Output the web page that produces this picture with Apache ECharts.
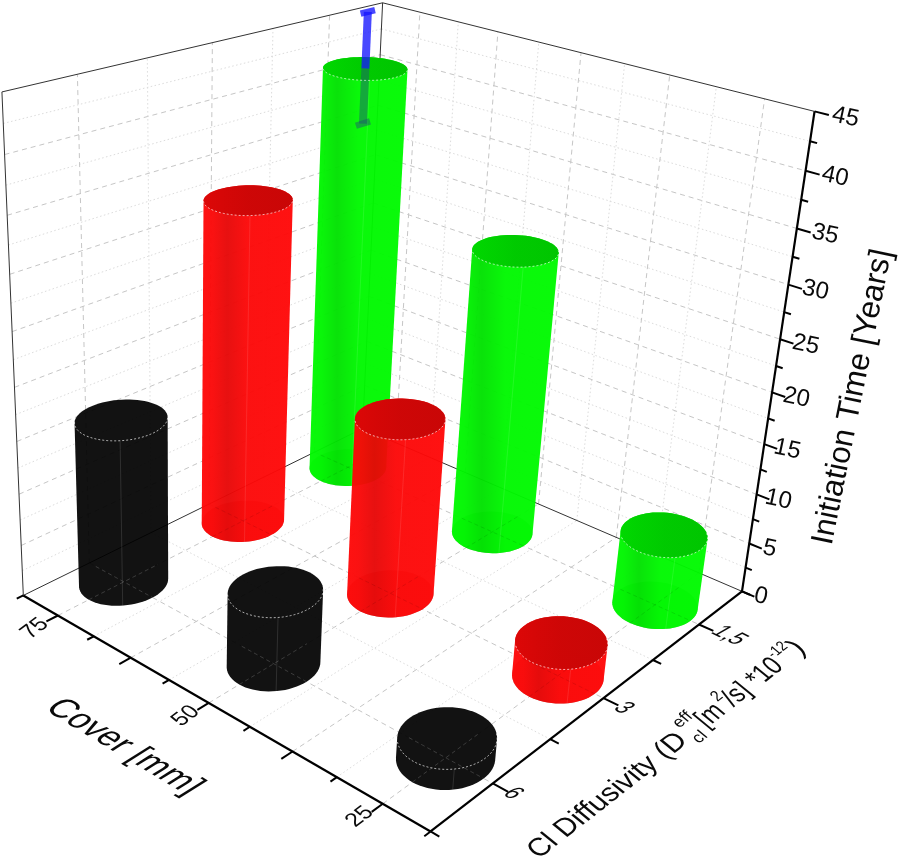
<!DOCTYPE html>
<html><head><meta charset="utf-8">
<style>html,body{margin:0;padding:0;background:#fff}#c{width:898px;height:859px}</style>
<script src="https://cdn.jsdelivr.net/npm/echarts@6/dist/echarts.min.js"></script>
</head><body><div id="c"></div>
<script>
// ---- data ----
const coverLabels = ['75','50','25'];
const diffusivityLabels = ['6','3','1,5'];
const timeTicks = [0,5,10,15,20,25,30,35,40,45];
const timeDiff6  = [16, 7, 1.9];
const timeDiff3  = [32, 17.3, 3.3];
const timeDiff15 = [41, 28.5, 7.2];
const errorCover75Diff15 = 5.2;
const barColours = [[0,0,0],[255,8,8],[0,250,0]];

// ---- camera calibration: [x,y,z] in unit box -> pixel ----
const calib = [
 [0,0,0,24,593],[1,0,0,430,831],[1,1,0,743,590],[0,1,0,362,430],
 [0,0,1,2,92],[0,1,1,383,2],[1,1,1,814,111],
 [.1,0,0,58,617],[.5,0,0,208,703],[.9,0,0,382,805],
 [1,1/6,0,495,784],[1,.5,0,603,698],[1,5/6,0,697,624],
 [1,1,1/3,767,443],[1,1,2/3,787,287]
];
function solveCamera(pts){
  const n=11,A=[],b=[];
  for(let i=0;i<n;i++){A.push(new Array(n).fill(0));b.push(0);}
  const add=(r,t)=>{for(let i=0;i<n;i++){b[i]+=r[i]*t;for(let j=0;j<n;j++)A[i][j]+=r[i]*r[j];}};
  pts.forEach(([X,Y,Z,u,v])=>{
    add([X,Y,Z,1,0,0,0,0,-u*X,-u*Y,-u*Z],u);
    add([0,0,0,0,X,Y,Z,1,-v*X,-v*Y,-v*Z],v);
  });
  for(let c=0;c<n;c++){
    let p=c;for(let r=c+1;r<n;r++)if(Math.abs(A[r][c])>Math.abs(A[p][c]))p=r;
    [A[c],A[p]]=[A[p],A[c]];[b[c],b[p]]=[b[p],b[c]];
    for(let r=0;r<n;r++){if(r===c)continue;const f=A[r][c]/A[c][c];
      if(f){for(let k=c;k<n;k++)A[r][k]-=f*A[c][k];b[r]-=f*b[c];}}
  }
  return b.map((v,i)=>v/A[i][i]);
}
const M=solveCamera(calib);
function P(x,y,z){
  const w=M[8]*x+M[9]*y+M[10]*z+1;
  return [(M[0]*x+M[1]*y+M[2]*z+M[3])/w,(M[4]*x+M[5]*y+M[6]*z+M[7])/w];
}
const zOf=v=>echarts.number.linearMap(v,[0,45],[0,1]);
const coverPos=i=>0.1+0.4*i;        // 75,50,25 on 10 tick intervals
const diffPos=i=>1/6+i/3;           // 6,3,1.5 on 6 tick intervals
const RX=0.081,RY=0.09;

// ---- helpers ----
const GRID='#c6c6c6';
function line(a,b,stroke,w,dash){return {type:'polyline',shape:{points:[a,b]},style:{fill:null,stroke,lineWidth:w,lineDash:dash||null},silent:true};}
function text(t,x,y,deg,size,skew){return {type:'text',x,y,rotation:deg*Math.PI/180,skewX:skew||0,silent:true,
  style:{text:t,fill:'#0a0a0a',font:size+'px "Liberation Sans"',align:'center',verticalAlign:'middle'}};}
function hull(pts){
  const s=pts.slice().sort((a,b)=>a[0]-b[0]||a[1]-b[1]);
  const cr=(o,a,b)=>(a[0]-o[0])*(b[1]-o[1])-(a[1]-o[1])*(b[0]-o[0]);
  const lo=[],up=[];
  for(const p of s){while(lo.length>1&&cr(lo[lo.length-2],lo[lo.length-1],p)<=0)lo.pop();lo.push(p);}
  for(const p of s.slice().reverse()){while(up.length>1&&cr(up[up.length-2],up[up.length-1],p)<=0)up.pop();up.push(p);}
  return lo.slice(0,-1).concat(up.slice(0,-1));
}
const rgba=(c,a,k)=>`rgba(${Math.round(c[0]*(k||1))},${Math.round(c[1]*(k||1))},${Math.round(c[2]*(k||1))},${a})`;
function circle(x,y,z){const o=[];for(let i=0;i<72;i++){const t=i/72*2*Math.PI;o.push(P(x+RX*Math.cos(t),y+RY*Math.sin(t),z));}return o;}

const BLUE='rgba(20,20,255,0.78)',BLUE_BEHIND='rgba(30,90,110,0.5)';
function errorBar(x,y,z0,z1,col){return [line(P(x,y,z0),P(x,y,z1),col,8)];}
function cap(x,y,z,col){return line(P(x,y-0.022,z),P(x,y+0.022,z),col,6.5);}

// ---- bars, far to near ----
const barRows=[];
[timeDiff6,timeDiff3,timeDiff15].forEach((vals,d)=>vals.forEach((v,c)=>barRows.push([c,d,v,(c===0&&d===2)?errorCover75Diff15:0])));
barRows.sort((a,b)=>(coverPos(a[0])-diffPos(a[1]))-(coverPos(b[0])-diffPos(b[1])));

function renderBar(params,api){
  const c=api.value(0),d=api.value(1),v=api.value(2),err=api.value(3);
  const x=coverPos(c),y=diffPos(d),zt=zOf(v),col=barColours[d];
  const base=circle(x,y,0),top=circle(x,y,zt),A=d===0?0.93:0.96;
  const ch=[];
  if(d!==0)ch.push({type:'polygon',shape:{points:base},style:{fill:rgba(col,0.5,0.6)},silent:true});
  ch.push({type:'polygon',shape:{points:hull(base.concat(top))},silent:true,style:{
    fill:new echarts.graphic.LinearGradient(0,0,1,0,[
      {offset:0,color:rgba(col,A,1)},{offset:0.12,color:rgba(col,A,0.98)},
      {offset:0.28,color:rgba(col,A,0.9)},{offset:0.5,color:rgba(col,A,0.99)},
      {offset:1,color:rgba(col,A,1)}])}});
  // floor grid cross seen through the bar, and the faint front seam
  const through=d===0?'rgba(255,255,255,0.18)':'rgba(0,0,0,0.1)';
  ch.push(line(P(x-RX,y,0),P(x+RX,y,0),through,1,[4,3]),line(P(x,y-RY,0),P(x,y+RY,0),through,1,[4,3]));
  const front=-41*Math.PI/180,fx=x+RX*Math.cos(front),fy=y+RY*Math.sin(front);
  ch.push(line(P(fx,fy,0),P(fx,fy,zt),d===0?'rgba(255,255,255,0.12)':'rgba(255,255,255,0.1)',1));
  if(d!==0)ch.push({type:'polygon',shape:{points:top},silent:true,style:{
    fill:new echarts.graphic.LinearGradient(0,0,1,0,[
      {offset:0,color:rgba(col,A,0.86)},{offset:0.5,color:rgba(col,A,0.8)},{offset:1,color:rgba(col,A,0.78)}])}});
  // the lower half of the error bar is seen through the body
  if(err){
    ch.push(...errorBar(x,y,zOf(v-err),zt,BLUE_BEHIND));
    ch.push(cap(x,y,zOf(v-err),BLUE_BEHIND));
  }
  // front rim of the top face
  const rim=[];for(let i=0;i<=36;i++){const t=(-90-41+i/36*180)*Math.PI/180;rim.push(P(x+RX*Math.cos(t),y+RY*Math.sin(t),zt));}
  ch.push({type:'polyline',shape:{points:rim},silent:true,style:{fill:null,stroke:'rgba(255,255,255,0.65)',lineWidth:1,lineDash:[2,2]}});
  if(err){
    ch.push(...errorBar(x,y,zt,zOf(v+err),BLUE));
    ch.push(cap(x,y,zOf(v+err),BLUE));
  }
  return {type:'group',children:ch};
}

// ---- walls, floor grid ----
function renderBack(){
  const ch=[];
  for(let i=1;i<18;i++){
    const z=i/18,major=i%2===0,col=major?GRID:'#dcdcdc',dash=major?[5,4]:[1.5,2.5];
    ch.push(line(P(0,0,z),P(0,1,z),col,1,dash));
    ch.push(line(P(0,1,z),P(1,1,z),col,1,dash));
  }
  for(let i=1;i<10;i++){
    const major=i%2===1,col=major?GRID:'#dcdcdc',dash=major?[5,4]:[1.5,2.5],x=i/10;
    ch.push(line(P(x,1,0),P(x,1,1),col,1,dash));
    ch.push(line(P(x,0,0),P(x,1,0),col,1,dash));
  }
  for(let i=1;i<6;i++){
    const major=i%2===1,col=major?GRID:'#dcdcdc',dash=major?[5,4]:[1.5,2.5],y=i/6;
    ch.push(line(P(0,y,0),P(0,y,1),col,1,dash));
    ch.push(line(P(0,y,0),P(1,y,0),col,1,dash));
  }
  const ink='#333';
  [[[0,0,0],[0,1,0]],[[0,1,0],[1,1,0]],[[0,0,0],[0,0,1]],[[0,0,1],[0,1,1]],[[0,1,1],[0,1,0]],[[0,1,1],[1,1,1]]]
    .forEach(([a,b])=>ch.push(line(P(...a),P(...b),ink,1)));
  return {type:'group',children:ch};
}

// ---- axes, tick labels, titles ----
function runs(parts,sx,sy,deg,size,skew){
  const ctx=document.createElement('canvas').getContext('2d');
  const a=deg*Math.PI/180,out=[];
  let adv=0;
  parts.forEach(p=>{
    const s=size*(p.s||1),scale=p.sx||1;
    ctx.font=s+'px "Liberation Sans"';
    const w=ctx.measureText(p.t).width*scale,off=(p.off||0)*size+0.21*s,along=adv+(p.dx||0);
    const px=sx+along*Math.cos(a)+off*Math.sin(a), py=sy-along*Math.sin(a)+off*Math.cos(a);
    out.push({type:'text',x:px,y:py,rotation:a,skewX:skew||0,scaleX:scale,silent:true,style:{text:p.t,fill:'#0a0a0a',font:s+'px "Liberation Sans"',align:'left',verticalAlign:'bottom'}});
    if(!p.stack)adv=along+w;
  });
  return out;
}
const LEAN_RIGHT=-0.47, LEAN_LEFT=0.3, LEAN_TITLE=0.22, LEAN_TICK=-0.6;
function renderFront(){
  const ch=[],k='#000';
  ch.push(line(P(0,0,0),P(1,0,0),k,2.2),line(P(1,0,0),P(1,1,0),k,2.2),line(P(1,1,0),P(1,1,1),k,2.2));
  for(let i=0;i<=10;i++){const L=i%2===1?0.028:0.016;ch.push(line(P(i/10,0,0),P(i/10,-L,0),k,2));}
  for(let i=0;i<=6;i++){const L=i%2===1?0.032:0.018;ch.push(line(P(1,i/6,0),P(1+L,i/6,0),k,2));}
  for(let i=0;i<=18;i++){const L=i%2===0?0.028:0.014;ch.push(line(P(1,1,i/18),P(1+L,1,i/18),k,2));}
  timeTicks.forEach(t=>{const z=zOf(t),p=P(1,1,z);ch.push(text(String(t),p[0]+17+12*z+2,p[1]+5+z,-12,24));});
  coverLabels.forEach((t,i)=>{const p=P(coverPos(i),0,0);ch.push(text(t,p[0]-23,p[1]+13,37,22,LEAN_LEFT));});
  diffusivityLabels.forEach((t,i)=>{const p=P(1,diffPos(i),0);ch.push(text(t,p[0]+(i===2?30:20),p[1]+(i===2?11:10),-26,21,LEAN_TICK));});
  ch.push(text('Initiation Time [Years]',853,397,78.5,31.5));
  ch.push(text('Cover [mm]',124,747,-31,32.5,LEAN_RIGHT));
  ch.push(...runs([
    {t:'Cl Diffusivity (D'},{t:'eff',s:.6,off:-.6,stack:true},{t:'cl',s:.6,off:.27,dx:6},{t:'[m',dx:4,sx:.82},
    {t:'2',s:.6,off:-.5,dx:-1,sx:.85},{t:'/s]',dx:2,sx:.82},{t:'*10',dx:6,sx:.82},{t:'-12',s:.55,off:-.5,dx:-4,sx:.85},{t:')',dx:4}
  ],540,859,38,28,LEAN_TITLE));
  return {type:'group',children:ch};
}

const common={type:'custom',coordinateSystem:'none',silent:true,animation:false};
echarts.init(document.getElementById('c'),null,{renderer:'canvas'}).setOption({
  backgroundColor:'#fff',animation:false,
  series:[
    Object.assign({},common,{name:'walls',z:1,data:[[0]],renderItem:renderBack}),
    Object.assign({},common,{name:'Initiation Time',z:2,data:barRows,dimensions:['cover','diffusivity','time','error'],renderItem:renderBar}),
    Object.assign({},common,{name:'axes',z:3,data:[[0]],renderItem:renderFront})
  ]
});
</script></body></html>
